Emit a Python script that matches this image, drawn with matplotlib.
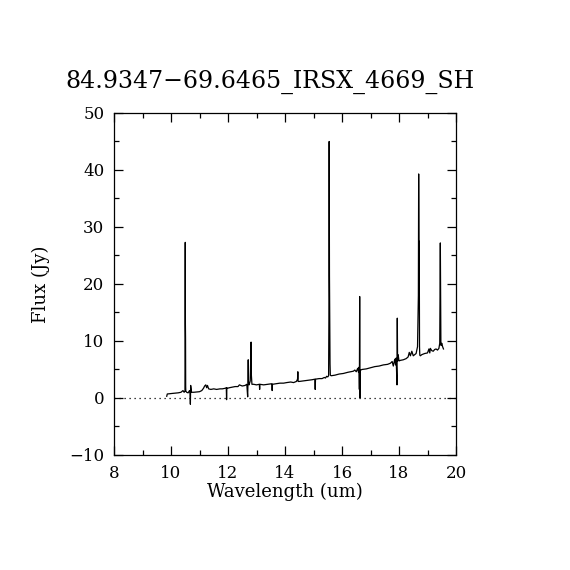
import matplotlib
matplotlib.use("Agg")
import matplotlib.pyplot as plt
from matplotlib.ticker import MultipleLocator

# ---------------------------------------------------------------
# IRS SH spectrum
# ---------------------------------------------------------------
TITLE = "84.9347\u221269.6465_IRSX_4669_SH"

wavelength = [
    9.85, 9.87, 9.95, 10.05, 10.15, 10.25, 10.35, 10.42, 10.46, 10.49,
    10.50, 10.505, 10.51, 10.515, 10.52, 10.55, 10.60, 10.65, 10.67, 10.68,
    10.69, 10.72, 10.80, 10.90, 11.00, 11.08, 11.14, 11.18, 11.22, 11.25,
    11.28, 11.32, 11.40, 11.50, 11.60, 11.72, 11.80, 11.90, 11.94, 11.95,
    11.96, 11.98, 12.05, 12.15, 12.25, 12.35, 12.40, 12.50, 12.60, 12.66,
    12.69, 12.70, 12.71, 12.72, 12.74, 12.78, 12.81, 12.82, 12.84, 12.90,
    13.00, 13.10, 13.11, 13.12, 13.25, 13.40, 13.54, 13.55, 13.56, 13.70,
    13.82, 13.95, 14.06, 14.20, 14.30, 14.40, 14.44, 14.45, 14.46, 14.50,
    14.65, 14.80, 14.95, 15.05, 15.06, 15.07, 15.20, 15.30, 15.38, 15.42,
    15.46, 15.50, 15.53, 15.54, 15.55, 15.56, 15.57, 15.58, 15.59, 15.62,
    15.75, 15.90, 16.05, 16.20, 16.30, 16.40, 16.45, 16.50, 16.55, 16.58,
    16.60, 16.61, 16.62, 16.63, 16.64, 16.66, 16.70, 16.85, 17.00, 17.15,
    17.30, 17.45, 17.60, 17.70, 17.76, 17.80, 17.85, 17.88, 17.90, 17.93,
    17.94, 17.95, 17.97, 18.00, 18.05, 18.15, 18.25, 18.32, 18.36, 18.40,
    18.45, 18.50, 18.55, 18.60, 18.65, 18.68, 18.69, 18.70, 18.71, 18.72,
    18.73, 18.75, 18.80, 18.90, 19.00, 19.05, 19.08, 19.10, 19.15, 19.20,
    19.25, 19.30, 19.35, 19.40, 19.43, 19.44, 19.45, 19.46, 19.47, 19.48,
    19.50, 19.53, 19.56,
]

flux = [
    0.3, 0.7, 0.75, 0.8, 0.85, 0.9, 1.0, 1.3, 1.0, 1.2,
    27.3, 13.0, 10.5, 2.0, 1.2, 1.0, 0.9, 1.3, 0.8, -1.1,
    2.2, 1.0, 1.0, 1.05, 1.1, 1.3, 1.7, 2.1, 2.3, 1.8,
    2.2, 1.6, 1.5, 1.6, 1.5, 1.6, 1.6, 1.7, 1.8, -0.3,
    1.8, 1.7, 1.8, 1.9, 2.0, 2.0, 2.3, 2.1, 2.2, 2.4,
    0.2, 2.5, 6.7, 2.6, 2.3, 3.0, 9.8, 4.0, 2.4, 2.4,
    2.3, 2.4, 1.5, 2.4, 2.3, 2.4, 2.5, 1.3, 2.4, 2.5,
    2.6, 2.6, 2.7, 2.8, 2.7, 2.9, 3.3, 4.6, 2.9, 2.9,
    3.0, 3.1, 3.2, 3.3, 1.5, 3.3, 3.4, 3.4, 3.6, 3.5,
    3.8, 3.7, 3.9, 13.5, 45.0, 21.5, 14.0, 6.0, 4.0, 3.9,
    4.0, 4.2, 4.3, 4.5, 4.6, 4.7, 4.9, 4.6, 5.2, 4.5,
    5.4, 1.5, 17.8, 0.0, 4.9, 4.9, 5.0, 5.1, 5.3, 5.5,
    5.6, 5.8, 5.9, 6.1, 6.4, 5.6, 6.8, 5.8, 7.0, 2.3,
    14.0, 6.5, 7.6, 6.5, 6.6, 6.7, 6.9, 7.2, 8.0, 7.4,
    8.2, 7.4, 7.6, 7.8, 9.0, 18.0, 39.3, 27.5, 27.5, 9.0,
    7.5, 7.4, 7.6, 7.8, 7.9, 8.6, 7.9, 8.7, 8.3, 8.2,
    8.5, 8.6, 8.4, 8.7, 9.6, 18.0, 27.2, 18.0, 9.5, 9.2,
    9.6, 9.0, 8.6,
]

XLIM = (8, 20)
YLIM = (-10, 50)
XTICKS = [8, 10, 12, 14, 16, 18, 20]
YTICKS = [-10, 0, 10, 20, 30, 40, 50]

plt.rcParams.update({
    "font.family": ["DejaVu Serif"],
    "mathtext.fontset": "dejavuserif",
})

fig = plt.figure(figsize=(5.7, 5.7), dpi=100, facecolor="white")
ax = fig.add_axes([0.2, 0.2018, 0.6, 0.6])

ax.plot(wavelength, flux, color="black", linewidth=0.9)
ax.axhline(0, color="black", linewidth=0.9, linestyle=(0, (1, 3)))

ax.set_xlim(*XLIM)
ax.set_ylim(*YLIM)
ax.set_xticks(XTICKS)
ax.set_yticks(YTICKS)
ax.xaxis.set_minor_locator(MultipleLocator(1))
ax.yaxis.set_minor_locator(MultipleLocator(5))
ax.tick_params(which="both", direction="in", top=True, right=True,
               labelsize=12, width=0.9, color="black")
ax.tick_params(which="major", length=6.5, pad=7)
ax.tick_params(which="minor", length=3.5)
for sp in ax.spines.values():
    sp.set_linewidth(0.9)

ax.set_xlabel("Wavelength (um)", fontsize=13, labelpad=1)
ax.set_ylabel("Flux (Jy)", fontsize=13, labelpad=14)

fig.text(270 / 570, 1 - 82 / 570, TITLE, ha="center", va="center", fontsize=17)

fig.savefig("out.png", dpi=100, facecolor="white")
plt.close()
